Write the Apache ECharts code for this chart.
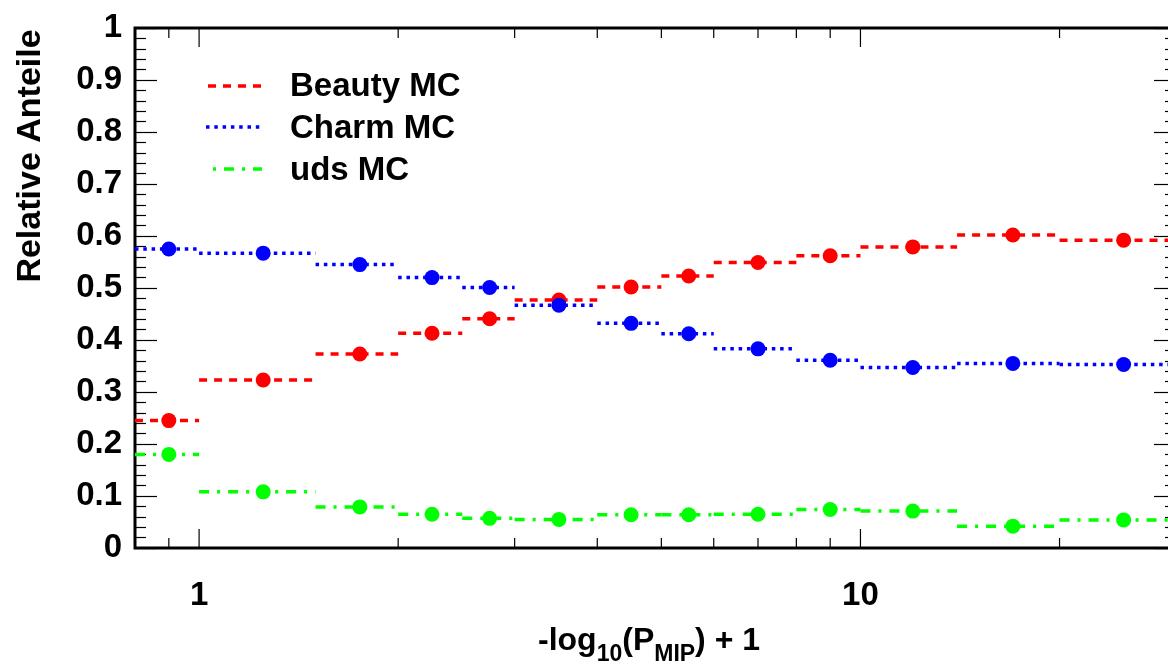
<!DOCTYPE html>
<html>
<head>
<meta charset="utf-8">
<script src="https://cdn.jsdelivr.net/npm/echarts@6/dist/echarts.min.js"></script>
<style>
  html, body { margin: 0; padding: 0; background: #fff; overflow: hidden; width: 1168px; height: 668px; }
  #chart { width: 1190px; height: 668px; }
</style>
</head>
<body>
<div id="chart"></div>
<script>
// ---- data ----
const binEdges   = [0.8, 1, 1.5, 2, 2.5, 3, 4, 5, 6, 8, 10, 14, 20, 30];
const binCenters = [0.9, 1.25, 1.75, 2.25, 2.75, 3.5, 4.5, 5.5, 7, 9, 12, 17, 25];
const beautyMC = [0.245, 0.323, 0.373, 0.413, 0.441, 0.477, 0.502, 0.523, 0.549, 0.562, 0.579, 0.602, 0.592];
const charmMC  = [0.575, 0.567, 0.545, 0.520, 0.501, 0.467, 0.432, 0.412, 0.383, 0.361, 0.347, 0.355, 0.353];
const udsMC    = [0.180, 0.108, 0.079, 0.065, 0.057, 0.055, 0.064, 0.064, 0.065, 0.074, 0.071, 0.042, 0.054];
const seriesNames = ['Beauty MC', 'Charm MC', 'uds MC'];
const xMajorTicks = [1, 10];
const xMinorTicks = [0.9, 2, 3, 4, 5, 6, 7, 8, 9, 20];
const xTickLabels = ['1', '10'];

// ---- style ----
const FONT = '"Liberation Sans", Arial, Helvetica, sans-serif';
const colors = ['#ff0000', '#0000ff', '#00ff00'];
const dashes = [[8, 7], [3.5, 4.8], [10, 8, 3, 8]];
const LW = 3.5;

const chart = echarts.init(document.getElementById('chart'), null, { renderer: 'canvas' });

function stepData(vals) {
  return vals.map((v, i) => [binEdges[i], binEdges[i + 1], v]);
}

function stepSeries(vals, idx) {
  return {
    type: 'custom',
    name: seriesNames[idx],
    silent: true,
    z: 2 + idx * 2,
    encode: { x: [0, 1], y: 2 },
    data: stepData(vals),
    renderItem: function (params, api) {
      const a = api.coord([api.value(0), api.value(2)]);
      const b = api.coord([api.value(1), api.value(2)]);
      return {
        type: 'line',
        shape: { x1: a[0], y1: a[1], x2: b[0], y2: b[1] },
        style: { stroke: colors[idx], lineWidth: LW, lineDash: dashes[idx], lineCap: 'butt', fill: null }
      };
    }
  };
}

function pointSeries(vals, idx) {
  return {
    type: 'scatter',
    name: seriesNames[idx],
    silent: true,
    z: 3 + idx * 2,
    symbol: 'circle',
    symbolSize: 15,
    itemStyle: { color: colors[idx], opacity: 1 },
    data: vals.map((v, i) => [binCenters[i], v])
  };
}

const tickData = xMajorTicks.map(v => [v, 1]).concat(xMinorTicks.map(v => [v, 0]));

const tickSeries = {
  type: 'custom',
  silent: true,
  z: 10,
  encode: { x: 0 },
  data: tickData,
  renderItem: function (params, api) {
    const v = api.value(0);
    const major = api.value(1) === 1;
    const bot = api.coord([v, 0]);
    const top = api.coord([v, 1]);
    const len = major ? 19 : 10;
    const st = { stroke: '#000', lineWidth: 1.2 };
    return {
      type: 'group',
      children: [
        { type: 'line', shape: { x1: bot[0], y1: bot[1], x2: bot[0], y2: bot[1] - len }, style: st },
        { type: 'line', shape: { x1: top[0], y1: top[1], x2: top[0], y2: top[1] + len }, style: st }
      ]
    };
  }
};

const yAxisCommon = {
  type: 'value',
  min: 0,
  max: 1,
  interval: 0.1,
  splitLine: { show: false },
  axisLine: { show: false },
  axisTick: { show: true, inside: true, length: 22, lineStyle: { color: '#000', width: 1.2 } },
  minorTick: { show: true, splitNumber: 5, length: 11, lineStyle: { color: '#000', width: 1.2 } },
  minorSplitLine: { show: false }
};

const option = {
  animation: false,
  backgroundColor: '#fff',
  grid: {
    left: 135, top: 28, width: 1041, height: 520,
    show: true, borderColor: '#000', borderWidth: 3, backgroundColor: 'transparent',
    containLabel: false
  },
  xAxis: {
    type: 'log',
    logBase: 10,
    min: 0.8,
    max: 30,
    splitLine: { show: false },
    axisLine: { show: false },
    axisTick: { show: false },
    minorTick: { show: false },
    axisLabel: {
      show: true,
      margin: 31,
      color: '#000',
      fontFamily: FONT,
      fontWeight: 'bold',
      fontSize: 33,
      formatter: function (v) {
        for (let i = 0; i < xMajorTicks.length; i++) {
          if (Math.abs(v - xMajorTicks[i]) < 1e-6 * xMajorTicks[i]) return xTickLabels[i];
        }
        return '';
      }
    }
  },
  yAxis: [
    Object.assign({}, yAxisCommon, {
      position: 'left',
      axisLabel: {
        show: true, margin: 13, color: '#000', fontFamily: FONT, fontWeight: 'bold', fontSize: 33
      }
    }),
    Object.assign({}, yAxisCommon, {
      position: 'right',
      axisLabel: { show: false }
    })
  ],
  graphic: [
    {
      type: 'text', x: 31, y: 156, rotation: Math.PI / 2,
      style: { text: 'Relative Anteile', font: 'bold 34px ' + FONT, fill: '#000', align: 'center', verticalAlign: 'middle' }
    },
    {
      type: 'text', left: 538, top: 625,
      style: {
        text: '{m|-log}{s|10}{m|(P}{s|MIP}{m|) + 1}',
        fill: '#000',
        rich: {
          m: { fontFamily: FONT, fontWeight: 'bold', fontSize: 32, lineHeight: 50, verticalAlign: 'middle', fill: '#000' },
          s: { fontFamily: FONT, fontWeight: 'bold', fontSize: 23, lineHeight: 50, verticalAlign: 'bottom', fill: '#000' }
        }
      }
    },
    // legend
    { type: 'line', shape: { x1: 208, y1: 86, x2: 262, y2: 86 }, style: { stroke: colors[0], lineWidth: LW, lineDash: dashes[0] } },
    { type: 'line', shape: { x1: 206, y1: 127, x2: 262, y2: 127 }, style: { stroke: colors[1], lineWidth: LW, lineDash: dashes[1] } },
    { type: 'line', shape: { x1: 213, y1: 169, x2: 262, y2: 169 }, style: { stroke: colors[2], lineWidth: LW, lineDash: [3, 8, 10, 8] } },
    { type: 'text', x: 290, y: 87, style: { text: seriesNames[0], font: 'bold 33px ' + FONT, fill: '#000', verticalAlign: 'middle' } },
    { type: 'text', x: 290, y: 129, style: { text: seriesNames[1], font: 'bold 33px ' + FONT, fill: '#000', verticalAlign: 'middle' } },
    { type: 'text', x: 290, y: 171, style: { text: seriesNames[2], font: 'bold 33px ' + FONT, fill: '#000', verticalAlign: 'middle' } }
  ],
  series: [
    stepSeries(beautyMC, 0), pointSeries(beautyMC, 0),
    stepSeries(charmMC, 1), pointSeries(charmMC, 1),
    stepSeries(udsMC, 2), pointSeries(udsMC, 2),
    tickSeries
  ]
};

chart.setOption(option);
</script>
</body>
</html>
